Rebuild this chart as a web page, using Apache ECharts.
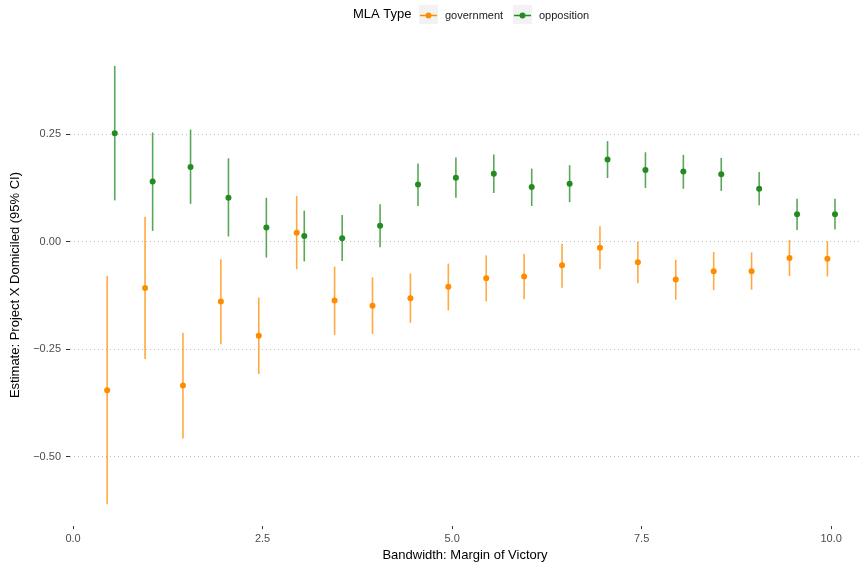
<!DOCTYPE html>
<html>
<head>
<meta charset="utf-8">
<script src="https://cdn.jsdelivr.net/npm/echarts@6/dist/echarts.min.js"></script>
<style>html,body{margin:0;padding:0;background:#fff}#c{width:868px;height:567px}</style>
</head>
<body>
<div id="c"></div>
<script>
const bandwidth = [0.5,1.0,1.5,2.0,2.5,3.0,3.5,4.0,4.5,5.0,5.5,6.0,6.5,7.0,7.5,8.0,8.5,9.0,9.5,10.0];
const govEst = [-0.346,-0.108,-0.335,-0.139,-0.219,0.021,-0.137,-0.149,-0.132,-0.105,-0.085,-0.081,-0.055,-0.014,-0.048,-0.088,-0.069,-0.069,-0.038,-0.040];
const govLo  = [-0.611,-0.273,-0.458,-0.239,-0.308,-0.064,-0.217,-0.215,-0.189,-0.160,-0.139,-0.134,-0.107,-0.064,-0.097,-0.135,-0.113,-0.112,-0.080,-0.081];
const govHi  = [-0.080,0.058,-0.212,-0.041,-0.130,0.106,-0.058,-0.083,-0.074,-0.051,-0.032,-0.029,-0.005,0.036,0.000,-0.042,-0.024,-0.025,0.004,0.001];
const oppEst = [0.252,0.140,0.174,0.102,0.033,0.013,0.008,0.037,0.133,0.149,0.158,0.127,0.135,0.191,0.167,0.163,0.157,0.123,0.064,0.064];
const oppLo  = [0.096,0.025,0.088,0.012,-0.037,-0.046,-0.045,-0.013,0.083,0.102,0.113,0.083,0.092,0.148,0.125,0.123,0.118,0.085,0.027,0.028];
const oppHi  = [0.409,0.254,0.261,0.194,0.102,0.072,0.062,0.087,0.182,0.196,0.203,0.170,0.178,0.234,0.208,0.202,0.195,0.162,0.100,0.100];
const xTicks = [0, 2.5, 5, 7.5, 10];
const yTicks = [-0.5, -0.25, 0, 0.25];
const groups = ['government', 'opposition'];
const colors = {government: '#FF8C00', opposition: '#228B22'};
const dodge = {government: -0.05, opposition: 0.05};

const FONT = '"Liberation Sans", Arial, Helvetica, sans-serif';
const chart = echarts.init(document.getElementById('c'), null, {renderer: 'canvas'});

function build(name, est, lo, hi) {
  const d = dodge[name];
  const bars = bandwidth.map((b, i) => [b + d, lo[i], hi[i]]);
  const pts = bandwidth.map((b, i) => [b + d, est[i]]);
  return [
    {
      name: name,
      type: 'custom',
      data: bars,
      encode: {x: 0, y: [1, 2]},
      renderItem: function (params, api) {
        const x = api.value(0);
        const p1 = api.coord([x, api.value(1)]);
        const p2 = api.coord([x, api.value(2)]);
        return {
          type: 'line',
          shape: {x1: p1[0], y1: p1[1], x2: p2[0], y2: p2[1]},
          style: {stroke: colors[name], lineWidth: 1.6, opacity: 0.75}
        };
      },
      z: 2,
      silent: true
    },
    {
      name: name,
      type: 'scatter',
      data: pts,
      symbol: 'circle',
      symbolSize: 6,
      itemStyle: {color: colors[name], opacity: 1},
      z: 3,
      silent: true
    }
  ];
}

const iconPath = 'path://M0,2.25 L17,2.25 L17,3.75 L0,3.75 Z M5.5,3 A3,3 0 1,1 11.5,3 A3,3 0 1,1 5.5,3 Z';

const option = {
  backgroundColor: '#fff',
  animation: false,
  color: [colors.government, colors.opposition],
  grid: {left: 70, right: 8, top: 44, bottom: 37, containLabel: false},
  xAxis: {
    type: 'value',
    min: -0.04,
    max: 10.38,
    name: 'Bandwidth: Margin of Victory',
    nameLocation: 'middle',
    nameGap: 22,
    nameTextStyle: {fontFamily: FONT, fontSize: 13, color: '#000'},
    axisLine: {show: false, onZero: false},
    axisTick: {show: true, length: 3, lineStyle: {color: '#333'}, customValues: xTicks},
    axisLabel: {show: true, customValues: xTicks, margin: 7, fontFamily: FONT, fontSize: 11, color: '#4d4d4d',
      formatter: v => v.toFixed(1)},
    splitLine: {show: false}
  },
  yAxis: {
    type: 'value',
    min: -0.662,
    max: 0.46,
    name: 'Estimate: Project X Domiciled (95% CI)',
    nameLocation: 'middle',
    nameGap: 37,
    nameTextStyle: {fontFamily: FONT, fontSize: 13, color: '#000'},
    axisLine: {show: false, onZero: false},
    axisTick: {show: true, length: 4, lineStyle: {color: '#333'}, customValues: yTicks},
    axisLabel: {show: true, customValues: yTicks, margin: 9, fontFamily: FONT, fontSize: 11, color: '#4d4d4d',
      formatter: v => (v < 0 ? '\u2212' : '') + Math.abs(v).toFixed(2)},
    splitLine: {show: true, lineStyle: {color: '#bdbdbd', width: 1, type: [1, 3]}}
  },
  legend: [
    {
      data: [{name: 'government', icon: iconPath}],
      left: 420, top: 10, padding: 0,
      itemWidth: 17, itemHeight: 6,
      selectedMode: false,
      textStyle: {fontFamily: FONT, fontSize: 11, color: '#1a1a1a', padding: [0, 0, 0, 3]}
    },
    {
      data: [{name: 'opposition', icon: iconPath}],
      left: 514, top: 10, padding: 0,
      itemWidth: 17, itemHeight: 6,
      selectedMode: false,
      textStyle: {fontFamily: FONT, fontSize: 11, color: '#1a1a1a', padding: [0, 0, 0, 3]}
    }
  ],
  graphic: [
    {type: 'text', left: 353, top: 8, z: 0, style: {text: 'MLA Type', font: '13px ' + FONT, fill: '#000'}},
    {type: 'rect', shape: {x: 419, y: 5, width: 19, height: 19}, style: {fill: '#f2f2f2'}, z: 0},
    {type: 'rect', shape: {x: 513, y: 5, width: 19, height: 19}, style: {fill: '#f2f2f2'}, z: 0}
  ],
  series: [].concat(
    build('government', govEst, govLo, govHi),
    build('opposition', oppEst, oppLo, oppHi)
  )
};
chart.setOption(option);
</script>
</body>
</html>
